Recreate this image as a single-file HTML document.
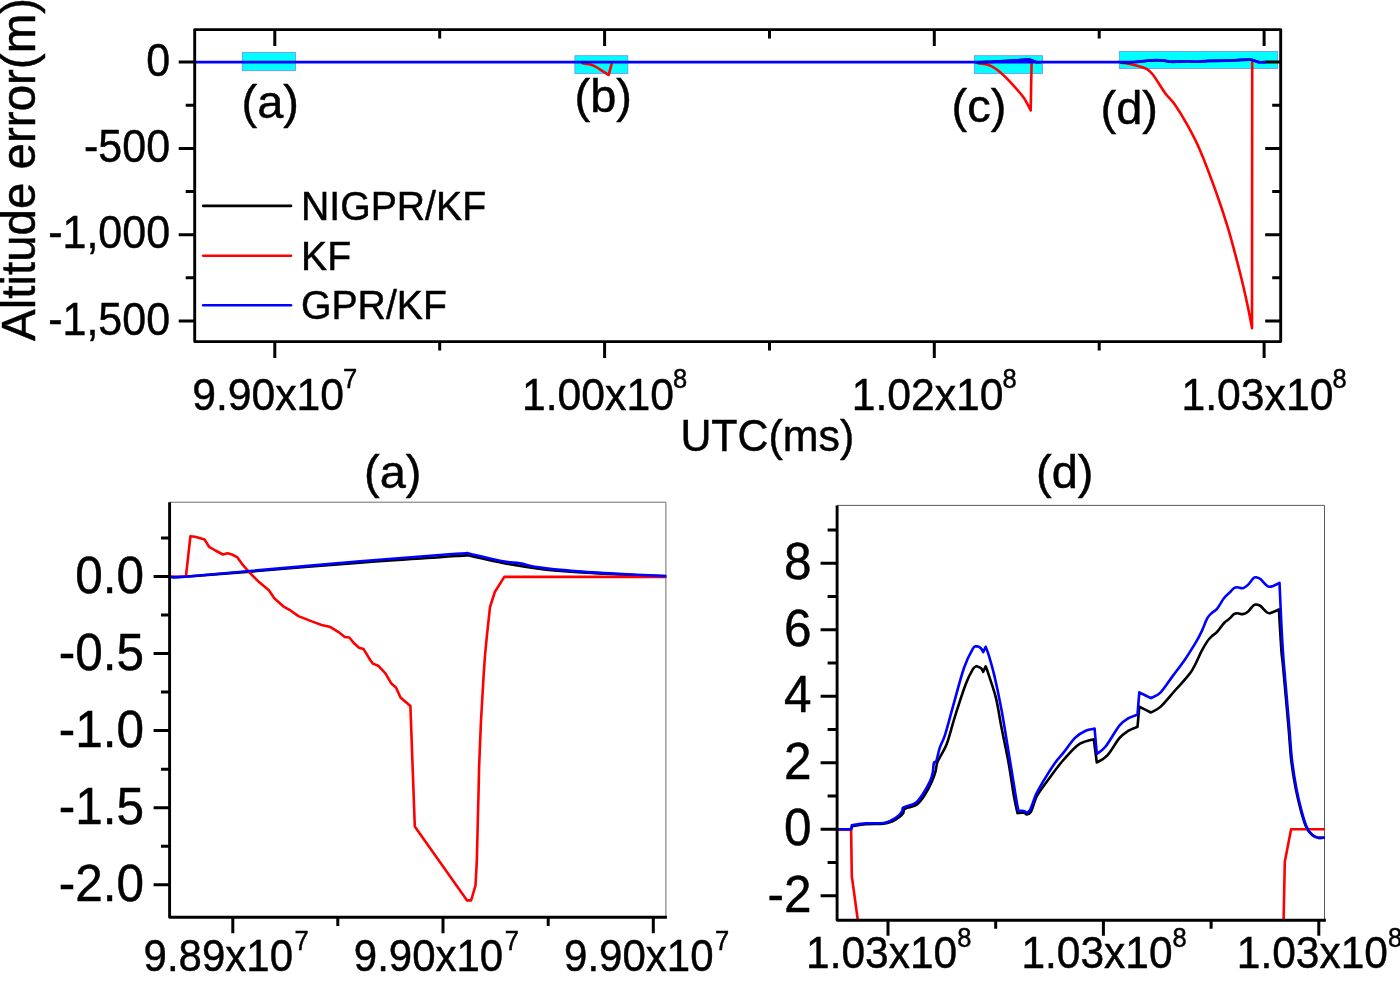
<!DOCTYPE html>
<html lang="en"><head><meta charset="utf-8"><title>Altitude error</title>
<style>html,body{margin:0;padding:0;background:#fff;}body{width:1400px;height:987px;overflow:hidden;}svg{display:block;}text{font-family:"Liberation Sans",sans-serif;fill:#000;stroke:#000;stroke-width:0.45;}.ax{stroke:#000;stroke-width:2.9;fill:none;stroke-linecap:butt;stroke-linejoin:round;}.tk{stroke:#000;stroke-width:3;fill:none;stroke-linecap:butt;}.ln{fill:none;stroke-width:2.6;stroke-linejoin:round;stroke-linecap:round;}</style>
</head><body>
<svg width="1400" height="987" viewBox="0 0 1400 987">
<rect x="0" y="0" width="1400" height="987" fill="#fff"/>
<rect x="242.3" y="52.5" width="53.1" height="18.2" fill="#00ffff" stroke="#6a8cff" stroke-width="0.8"/>
<rect x="574.9" y="55.7" width="52.9" height="17.7" fill="#00ffff" stroke="#6a8cff" stroke-width="0.8"/>
<rect x="974.4" y="55.7" width="68.1" height="17.7" fill="#00ffff" stroke="#6a8cff" stroke-width="0.8"/>
<rect x="1119.3" y="51.4" width="158.4" height="17.2" fill="#00ffff" stroke="#6a8cff" stroke-width="0.8"/>
<path class="tk" d="M178.7 62.1H194.7M1265.2 62.1H1280.7M178.7 148.4H194.7M1265.2 148.4H1280.7M178.7 234.7H194.7M1265.2 234.7H1280.7M178.7 321.0H194.7M1265.2 321.0H1280.7M185.7 105.2H194.7M1272.2 105.2H1280.7M185.7 191.5H194.7M1272.2 191.5H1280.7M185.7 277.8H194.7M1272.2 277.8H1280.7M274.8 29.6V46.1M274.8 341.6V358.1M604.6 29.6V46.1M604.6 341.6V358.1M934.3 29.6V46.1M934.3 341.6V358.1M1264.1 29.6V46.1M1264.1 341.6V358.1M439.7 29.6V38.6M439.7 341.6V350.6M769.5 29.6V38.6M769.5 341.6V350.6M1099.2 29.6V38.6M1099.2 341.6V350.6"/>
<path class="ln" stroke="#ff0000" stroke-width="3" d="M582.3 63.2C584.0 63.5 589.5 64.1 592.6 65.2C595.7 66.3 597.9 68.2 600.6 69.8C603.3 71.4 607.4 74.1 608.7 74.9C609.2 72.9 611.4 65.0 611.9 63.0"/>
<path class="ln" stroke="#ff0000" stroke-width="3" d="M978.0 63.2C979.5 63.4 984.1 63.6 987.2 64.6C990.3 65.6 993.4 67.1 996.4 69.2C999.4 71.3 1002.5 74.2 1005.5 77.2C1008.5 80.2 1011.7 83.5 1014.7 86.9C1017.8 90.3 1021.1 93.9 1023.8 97.8C1026.5 101.7 1029.5 108.3 1030.7 110.4C1030.8 102.5 1031.4 70.8 1031.6 62.9"/>
<path class="ln" stroke="#ff0000" stroke-width="3" d="M1121.4 62.6C1124.0 63.1 1132.9 64.7 1137.1 65.7C1141.3 66.8 1143.9 67.4 1146.5 68.9C1149.1 70.4 1149.6 70.4 1152.8 74.5C1156.0 78.6 1161.7 88.4 1165.4 93.4C1169.1 98.4 1171.2 99.2 1174.8 104.4C1178.4 109.6 1183.1 117.2 1187.3 124.8C1191.5 132.4 1195.2 138.9 1199.9 149.9C1204.6 160.9 1210.9 177.6 1215.6 190.7C1220.3 203.8 1224.0 214.8 1228.1 228.4C1232.1 242.0 1236.6 259.2 1239.9 272.3C1243.2 285.4 1245.9 297.6 1247.9 306.9C1249.9 316.2 1251.3 324.6 1252.0 328.2C1252.0 283.9 1252.2 106.9 1252.2 62.6"/>
<path class="ln" stroke="#000" stroke-width="2.2" d="M976.0 62.2C977.5 62.2 981.0 62.1 985.0 62.0C989.0 61.9 995.0 61.6 1000.0 61.4C1005.0 61.1 1010.3 60.8 1015.0 60.5C1019.7 60.2 1025.6 59.6 1028.4 59.6C1031.2 59.6 1030.7 60.2 1032.0 60.6C1033.3 61.0 1035.1 61.9 1036.4 62.2C1037.7 62.5 1039.4 62.2 1040.0 62.2"/>
<path class="ln" stroke="#000" stroke-width="2.2" d="M1121.0 62.2C1123.5 62.2 1131.3 62.2 1135.7 62.0C1140.1 61.8 1143.9 61.1 1147.3 60.8C1150.7 60.5 1153.5 60.2 1156.3 60.2C1159.1 60.2 1161.7 60.3 1164.0 60.6C1166.3 60.9 1167.8 61.6 1170.4 61.8C1173.0 62.0 1176.6 61.7 1179.4 61.6C1182.2 61.5 1184.1 61.3 1187.1 61.3C1190.1 61.3 1194.0 61.9 1197.4 61.8C1200.8 61.8 1203.0 61.2 1207.7 61.0C1212.4 60.8 1220.6 60.9 1225.7 60.7C1230.8 60.6 1234.4 60.3 1238.5 60.1C1242.6 59.9 1247.3 59.6 1250.1 59.7C1252.9 59.9 1253.7 60.6 1255.2 61.0C1256.7 61.4 1257.5 62.0 1259.1 62.2C1260.7 62.4 1263.9 62.2 1264.9 62.2"/>
<path class="ln" stroke="#0000ff" stroke-width="2.7" stroke-linecap="butt" d="M194.7 62.1C324.9 62.1 844.3 62.1 976.0 62.1C1107.7 62.1 981.0 62.0 985.0 61.9C989.0 61.8 995.0 61.5 1000.0 61.3C1005.0 61.0 1010.3 60.7 1015.0 60.4C1019.7 60.1 1025.6 59.5 1028.4 59.5C1031.2 59.5 1030.7 60.1 1032.0 60.5C1033.3 60.9 1035.1 61.8 1036.4 62.1C1037.7 62.4 1025.9 62.1 1040.0 62.1C1054.1 62.1 1105.0 62.1 1121.0 62.1C1137.0 62.1 1131.3 62.1 1135.7 61.9C1140.1 61.7 1143.9 61.0 1147.3 60.7C1150.7 60.4 1153.5 60.1 1156.3 60.1C1159.1 60.1 1161.7 60.2 1164.0 60.5C1166.3 60.8 1167.8 61.5 1170.4 61.7C1173.0 61.9 1176.6 61.6 1179.4 61.5C1182.2 61.4 1184.1 61.2 1187.1 61.2C1190.1 61.2 1194.0 61.8 1197.4 61.7C1200.8 61.7 1203.0 61.1 1207.7 60.9C1212.4 60.7 1220.6 60.8 1225.7 60.6C1230.8 60.5 1234.4 60.2 1238.5 60.0C1242.6 59.8 1247.3 59.5 1250.1 59.6C1252.9 59.8 1253.7 60.5 1255.2 60.9C1256.7 61.3 1257.5 61.9 1259.1 62.1C1260.7 62.3 1263.9 62.1 1264.9 62.1"/>
<rect class="ax" x="194.7" y="29.6" width="1086.0" height="312.0"/>
<text transform="translate(170.1 75.7) scale(1 1.055)" font-size="43" text-anchor="end">0</text>
<text transform="translate(170.1 162.0) scale(1 1.055)" font-size="43" text-anchor="end">-500</text>
<text transform="translate(170.1 248.3) scale(1 1.055)" font-size="43" text-anchor="end">-1,000</text>
<text transform="translate(170.1 334.6) scale(1 1.055)" font-size="43" text-anchor="end">-1,500</text>
<text transform="translate(192.2 409.5) scale(1 1.055)" font-size="42.7">9.90x10<tspan font-size="25.5" dx="-1" dy="-20">7</tspan></text>
<text transform="translate(522.0 409.5) scale(1 1.055)" font-size="42.7">1.00x10<tspan font-size="25.5" dx="-1" dy="-20">8</tspan></text>
<text transform="translate(851.7 409.5) scale(1 1.055)" font-size="42.7">1.02x10<tspan font-size="25.5" dx="-1" dy="-20">8</tspan></text>
<text transform="translate(1181.5 409.5) scale(1 1.055)" font-size="42.7">1.03x10<tspan font-size="25.5" dx="-1" dy="-20">8</tspan></text>
<text transform="translate(680.4 451.4) scale(1 1.055)" font-size="42.9">UTC(ms)</text>
<text transform="translate(34.8 341) rotate(-90) scale(1 1.02)" font-size="47.5">Altitude error(m)</text>
<text transform="translate(241.5 117.6) scale(1 1.0)" font-size="47" stroke-width="0.25">(a)</text>
<text transform="translate(574.5 111.6) scale(1 1.0)" font-size="47" stroke-width="0.25">(b)</text>
<text transform="translate(951.5 122.0) scale(1 1.0)" font-size="47" stroke-width="0.25">(c)</text>
<text transform="translate(1100.5 123.6) scale(1 1.0)" font-size="47" stroke-width="0.25">(d)</text>
<path class="ln" stroke="#000" d="M203.2 205.9H291"/>
<path class="ln" stroke="#ff0000" d="M203.2 255.7H291"/>
<path class="ln" stroke="#0000ff" d="M203.2 305.3H291"/>
<text transform="translate(301 219.8) scale(1 1.055)" font-size="39.2">NIGPR/KF</text>
<text transform="translate(301 269.6) scale(1 1.055)" font-size="39.2">KF</text>
<text transform="translate(301 319.0) scale(1 1.055)" font-size="39.2">GPR/KF</text>
<path d="M169.6 502.2H665.9V917.2" fill="none" stroke="#6e6e6e" stroke-width="1"/>
<path class="tk" d="M153.6 576.5H169.6M153.6 653.6H169.6M153.6 730.6H169.6M153.6 807.7H169.6M153.6 884.8H169.6M161.0 538.0H169.6M161.0 615.1H169.6M161.0 692.1H169.6M161.0 769.2H169.6M161.0 846.2H169.6M232.8 917.2V933.2M443.0 917.2V933.2M653.3 917.2V933.2M337.8 917.2V926.0M548.2 917.2V926.0"/>
<clipPath id="ca"><rect x="169.6" y="502.2" width="496.7" height="415.0"/></clipPath>
<g clip-path="url(#ca)">
<path class="ln" stroke="#000" stroke-width="2.7" d="M169.8 576.8C172.3 576.8 171.6 577.7 185.0 576.8C198.4 575.9 220.8 574.0 250.0 571.6C279.2 569.2 328.3 565.0 360.0 562.6C391.7 560.2 422.3 558.4 440.0 557.2C457.7 556.0 461.1 555.6 466.3 555.4C471.5 555.2 464.9 554.7 471.0 556.0C477.1 557.3 491.6 560.9 502.9 563.0C514.2 565.1 526.7 567.1 538.6 568.6C550.5 570.1 561.0 571.0 574.3 572.0C587.6 573.0 602.9 573.7 618.2 574.4C633.5 575.1 658.0 576.0 665.9 576.3"/>
<polyline class="ln" stroke="#ff0000" stroke-width="2.6" points="169.8,576.8 185.9,576.6 190.4,536.3 195.0,536.8 204.6,539.6 209.1,546.8 215.4,550.5 222.9,554.5 227.5,553.2 232.0,554.5 237.1,557.1 243.0,565.2 249.3,572.3 257.3,580.4 268.9,590.2 274.3,598.2 283.2,606.3 289.5,609.8 298.4,616.1 311.8,621.4 321.6,625.0 330.5,627.1 338.6,632.1 344.8,637.0 349.3,637.5 354.6,643.8 359.1,647.7 363.6,649.1 370.2,660.0 372.9,663.6 378.2,665.7 385.4,673.4 391.1,683.2 396.1,687.7 400.5,697.5 410.4,706.1 414.8,826.4 467.1,900.4 471.1,900.4 475.5,885.5 476.8,861.4 478.6,790.0 479.1,767.1 480.9,722.5 483.6,675.9 485.0,655.4 487.1,633.9 490.0,607.1 494.8,592.0 504.3,576.9 665.9,576.9"/>
<path class="ln" stroke="#0000ff" stroke-width="2.8" d="M169.8 576.8C172.3 576.8 171.6 577.8 185.0 576.8C198.4 575.8 220.8 573.6 250.0 571.0C279.2 568.4 328.3 564.0 360.0 561.3C391.7 558.6 422.4 556.4 440.0 555.0C457.6 553.6 460.3 553.4 465.4 553.2C470.5 553.0 464.4 552.5 470.7 553.9C476.9 555.2 494.7 559.7 502.9 561.3C511.1 562.9 514.0 562.4 520.0 563.4C526.0 564.4 529.6 566.0 538.6 567.3C547.6 568.6 561.0 570.0 574.3 571.1C587.6 572.2 602.9 573.0 618.2 573.8C633.5 574.6 658.0 575.7 665.9 576.1"/>
</g>
<path class="ax" d="M169.6 502.2V917.2H666.9"/>
<text transform="translate(144 592.8) scale(1 1.055)" font-size="49.5" text-anchor="end">0.0</text>
<text transform="translate(144 669.9) scale(1 1.055)" font-size="49.5" text-anchor="end">-0.5</text>
<text transform="translate(144 746.9) scale(1 1.055)" font-size="49.5" text-anchor="end">-1.0</text>
<text transform="translate(144 824.0) scale(1 1.055)" font-size="49.5" text-anchor="end">-1.5</text>
<text transform="translate(144 901.1) scale(1 1.055)" font-size="49.5" text-anchor="end">-2.0</text>
<text transform="translate(143.6 971.4) scale(1 1.055)" font-size="42">9.89x10<tspan font-size="25.5" dx="1.5" dy="-20.5">7</tspan></text>
<text transform="translate(353.8 971.4) scale(1 1.055)" font-size="42">9.90x10<tspan font-size="25.5" dx="1.5" dy="-20.5">7</tspan></text>
<text transform="translate(564.1 971.4) scale(1 1.055)" font-size="42">9.90x10<tspan font-size="25.5" dx="1.5" dy="-20.5">7</tspan></text>
<text transform="translate(364 487.5) scale(1 1.0)" font-size="47" stroke-width="0.25">(a)</text>
<path d="M837.1 505.4H1324.5V920.3" fill="none" stroke="#5a5a5a" stroke-width="1"/>
<path class="tk" d="M820.6 563.2H837.1M820.6 629.7H837.1M820.6 696.2H837.1M820.6 762.7H837.1M820.6 829.2H837.1M820.6 895.8H837.1M827.6 530.0H837.1M827.6 596.5H837.1M827.6 663.0H837.1M827.6 729.5H837.1M827.6 796.0H837.1M827.6 862.5H837.1M888.0 920.3V935.8M1103.4 920.3V935.8M1318.8 920.3V935.8M995.7 920.3V928.8M1211.1 920.3V928.8"/>
<clipPath id="cd"><rect x="837.1" y="505.4" width="487.8" height="414.9"/></clipPath>
<g clip-path="url(#cd)">
<path class="ln" stroke="#000" stroke-width="2.5" d="M837.1 829.3C839.4 829.3 848.8 829.3 851.1 829.3C851.3 828.8 852.2 826.7 852.4 826.2C854.6 825.9 860.5 824.6 865.7 824.2C870.9 823.8 879.3 824.2 883.6 823.8C887.9 823.4 888.8 822.9 891.5 821.7C894.2 820.5 897.8 818.1 899.8 816.6C901.8 815.1 902.6 814.1 903.3 812.9C904.0 811.7 903.4 810.3 904.2 809.4C905.0 808.5 905.9 808.4 908.0 807.6C910.1 806.8 914.3 806.4 917.0 804.4C919.7 802.4 921.9 799.3 924.4 795.5C926.9 791.7 930.0 785.6 931.8 781.6C933.6 777.6 934.5 774.9 935.4 771.8C936.3 768.7 936.2 765.6 937.1 762.9C938.0 760.2 939.1 759.0 940.7 755.7C942.4 752.4 944.6 749.8 947.0 743.2C949.4 736.7 951.9 726.2 955.0 716.4C958.1 706.6 962.7 692.2 965.7 684.3C968.7 676.4 971.1 672.1 972.9 669.1C974.7 666.1 975.8 666.6 976.4 666.1C977.1 666.4 979.8 667.0 980.9 667.9C982.0 668.8 982.8 671.1 983.2 671.8C983.6 670.9 985.3 667.3 985.7 666.4C986.2 667.9 987.2 670.0 988.9 675.4C990.6 680.8 994.0 690.0 996.1 698.6C998.2 707.2 999.3 716.4 1001.4 727.1C1003.5 737.8 1006.5 751.4 1008.6 762.9C1010.7 774.4 1012.4 787.5 1013.9 795.9C1015.4 804.3 1016.9 810.3 1017.5 813.2C1018.5 813.1 1022.3 812.5 1023.8 812.7C1025.3 812.9 1026.0 814.2 1026.4 814.5C1027.2 814.0 1029.1 814.9 1030.9 811.8C1032.7 808.7 1034.4 800.8 1037.1 795.7C1039.8 790.6 1042.8 787.1 1047.0 781.4C1051.2 775.7 1057.1 767.4 1062.1 761.5C1067.1 755.6 1072.9 749.2 1076.8 745.9C1080.7 742.5 1082.9 742.5 1085.7 741.4C1088.5 740.3 1092.5 739.6 1093.8 739.3C1094.3 743.2 1096.3 758.6 1096.8 762.5C1098.5 761.4 1103.3 759.8 1107.1 755.7C1110.9 751.6 1116.0 742.1 1119.6 737.9C1123.2 733.7 1125.6 732.6 1128.6 730.7C1131.6 728.9 1136.0 727.4 1137.5 726.8C1137.8 723.4 1139.0 710.0 1139.3 706.6C1141.2 707.6 1149.0 711.5 1150.9 712.5C1152.5 711.5 1156.7 710.3 1160.7 706.6C1164.7 702.9 1169.9 696.3 1175.0 690.5C1180.1 684.7 1186.6 678.4 1191.1 671.8C1195.6 665.2 1199.1 655.7 1201.8 650.7C1204.5 645.7 1205.5 644.0 1207.1 641.6C1208.7 639.2 1209.9 638.0 1211.6 636.4C1213.2 634.8 1214.9 634.2 1217.0 632.0C1219.1 629.8 1222.0 625.2 1224.1 623.0C1226.2 620.8 1227.9 620.1 1229.5 618.6C1231.1 617.1 1232.6 615.0 1233.9 614.1C1235.2 613.2 1236.0 613.2 1237.5 613.2C1239.0 613.2 1241.1 614.4 1242.9 614.1C1244.7 613.8 1246.4 612.9 1248.2 611.4C1250.0 609.9 1252.1 606.3 1253.6 605.2C1255.1 604.1 1255.9 604.5 1257.1 604.6C1258.3 604.8 1258.9 604.7 1260.7 606.1C1262.5 607.5 1265.8 611.9 1267.9 612.9C1270.0 613.9 1271.4 612.6 1273.2 612.0C1275.0 611.4 1278.0 609.8 1278.9 609.3C1279.3 616.2 1280.7 641.3 1281.4 650.7C1282.1 660.1 1281.8 653.2 1283.0 665.9C1284.2 678.6 1287.1 711.4 1288.5 727.1C1289.9 742.8 1290.0 749.8 1291.2 760.0C1292.4 770.2 1294.0 780.0 1295.7 788.6C1297.4 797.2 1299.4 805.2 1301.2 811.8C1303.0 818.3 1304.8 824.0 1306.6 827.9C1308.4 831.8 1310.3 833.4 1312.2 835.0C1314.1 836.6 1315.9 837.2 1317.9 837.7C1320.0 838.2 1323.4 837.7 1324.5 837.7"/>
<polyline class="ln" stroke="#ff0000" points="837.1,829.3 851.1,829.6 851.8,876.1 857.7,919.3"/>
<polyline class="ln" stroke="#ff0000" points="1283.6,919.3 1284.8,861.8 1291.1,829.3 1324.5,829.3"/>
<path class="ln" stroke="#0000ff" stroke-width="2.7" d="M837.1 829.3C839.4 829.3 848.8 829.3 851.1 829.3C851.2 828.6 851.7 825.9 851.8 825.2C854.1 824.9 860.4 823.8 865.7 823.4C871.0 823.0 879.4 823.5 883.6 823.0C887.8 822.5 888.2 822.0 890.7 820.7C893.2 819.4 896.9 817.0 898.8 815.4C900.7 813.8 901.6 812.1 902.3 810.9C903.0 809.6 902.1 808.7 902.9 807.9C903.6 807.1 904.7 806.9 906.8 806.1C908.9 805.3 913.0 804.9 915.7 802.9C918.4 800.9 920.5 797.5 922.9 793.9C925.3 790.3 928.4 784.9 930.0 781.4C931.6 777.9 932.1 775.8 932.7 772.7C933.4 769.6 933.3 764.8 933.9 762.9C934.5 761.0 935.3 763.6 936.3 761.1C937.3 758.6 938.3 752.2 939.8 747.7C941.3 743.2 943.0 741.3 945.2 734.3C947.4 727.3 950.1 716.7 953.2 705.7C956.3 694.7 960.6 677.7 963.9 668.2C967.2 658.7 970.8 652.2 972.9 648.6C975.0 645.0 975.1 646.5 976.4 646.4C977.7 646.3 979.8 647.2 980.9 648.2C982.0 649.2 982.8 651.5 983.2 652.1C983.6 651.2 985.3 647.7 985.7 646.8C986.2 648.3 987.5 650.9 988.9 655.7C990.3 660.5 992.2 666.5 994.3 675.4C996.4 684.3 999.0 696.5 1001.4 709.3C1003.8 722.1 1006.2 737.7 1008.6 752.1C1011.0 766.5 1014.1 786.1 1015.7 795.9C1017.3 805.7 1018.0 808.4 1018.4 810.9C1019.3 810.9 1022.5 810.6 1023.8 810.9C1025.1 811.2 1026.0 812.4 1026.4 812.7C1027.0 812.2 1028.3 813.1 1030.0 810.0C1031.7 806.9 1033.9 799.0 1036.3 793.9C1038.7 788.8 1041.2 784.8 1044.3 779.6C1047.4 774.4 1051.7 767.5 1055.0 762.9C1058.3 758.3 1060.6 756.3 1063.9 752.1C1067.2 747.9 1071.4 741.5 1075.0 737.9C1078.6 734.3 1082.4 732.2 1085.7 730.7C1089.0 729.2 1093.1 729.0 1094.6 728.6C1095.0 732.8 1096.4 749.7 1096.8 753.9C1098.2 752.7 1101.6 751.5 1105.4 746.8C1109.2 742.0 1115.7 730.2 1119.6 725.4C1123.5 720.6 1125.6 720.0 1128.6 718.2C1131.6 716.4 1136.0 715.2 1137.5 714.6C1137.8 710.9 1139.0 696.0 1139.3 692.3C1141.2 693.3 1149.0 697.2 1150.9 698.2C1152.5 697.2 1157.0 696.1 1160.7 692.3C1164.4 688.5 1169.0 681.0 1173.2 675.4C1177.4 669.8 1181.8 664.1 1185.7 658.4C1189.6 652.7 1193.7 645.9 1196.4 641.4C1199.1 636.9 1200.0 634.9 1201.8 631.1C1203.6 627.3 1205.5 621.6 1207.1 618.6C1208.7 615.6 1209.9 614.8 1211.6 613.2C1213.2 611.6 1214.9 611.3 1217.0 608.8C1219.1 606.3 1222.0 600.7 1224.1 598.0C1226.2 595.3 1227.9 594.3 1229.5 592.7C1231.1 591.1 1232.6 589.1 1233.9 588.2C1235.2 587.3 1236.0 587.3 1237.5 587.3C1239.0 587.3 1241.1 588.7 1242.9 588.2C1244.7 587.8 1246.4 586.3 1248.2 584.6C1250.0 582.9 1252.1 579.2 1253.6 578.0C1255.1 576.8 1255.9 577.3 1257.1 577.5C1258.3 577.7 1258.9 577.8 1260.7 579.3C1262.5 580.8 1265.8 585.3 1267.9 586.4C1270.0 587.5 1271.3 586.5 1273.2 585.9C1275.1 585.3 1278.5 583.4 1279.5 582.9C1279.9 591.2 1281.1 619.3 1281.8 632.9C1282.5 646.5 1282.7 648.9 1283.9 664.6C1285.2 680.3 1288.0 711.2 1289.3 727.1C1290.6 743.0 1290.8 749.8 1292.0 760.0C1293.2 770.2 1294.8 780.0 1296.4 788.6C1298.0 797.2 1300.0 805.2 1301.8 811.8C1303.6 818.3 1305.3 824.0 1307.1 827.9C1308.9 831.8 1310.7 833.4 1312.5 835.0C1314.3 836.6 1315.9 837.2 1317.9 837.7C1319.9 838.2 1323.4 837.7 1324.5 837.7"/>
</g>
<path class="ax" d="M837.1 505.4V920.3H1325.9"/>
<text transform="translate(811.5 579.2) scale(1 1.055)" font-size="49.5" text-anchor="end">8</text>
<text transform="translate(811.5 645.7) scale(1 1.055)" font-size="49.5" text-anchor="end">6</text>
<text transform="translate(811.5 712.2) scale(1 1.055)" font-size="49.5" text-anchor="end">4</text>
<text transform="translate(811.5 778.7) scale(1 1.055)" font-size="49.5" text-anchor="end">2</text>
<text transform="translate(811.5 845.2) scale(1 1.055)" font-size="49.5" text-anchor="end">0</text>
<text transform="translate(811.5 911.8) scale(1 1.055)" font-size="49.5" text-anchor="end">-2</text>
<text transform="translate(806.0 968) scale(1 1.055)" font-size="42.5">1.03x10<tspan font-size="25.5" dy="-20">8</tspan></text>
<text transform="translate(1021.4 968) scale(1 1.055)" font-size="42.5">1.03x10<tspan font-size="25.5" dy="-20">8</tspan></text>
<text transform="translate(1236.8 968) scale(1 1.055)" font-size="42.5">1.03x10<tspan font-size="25.5" dy="-20">8</tspan></text>
<text transform="translate(1036 487.5) scale(1 1.0)" font-size="47" stroke-width="0.25">(d)</text>
</svg></body></html>
